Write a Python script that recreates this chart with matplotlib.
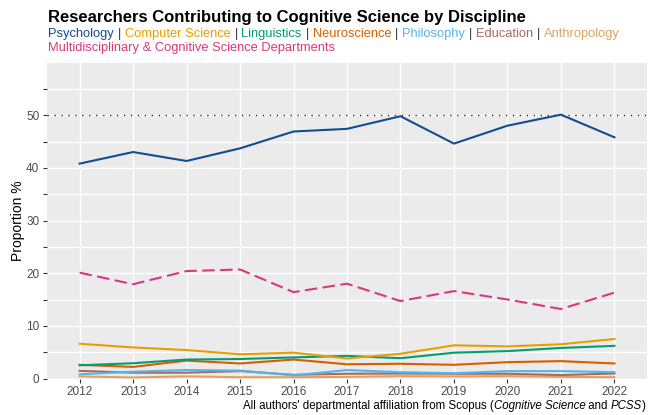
import numpy as np
import matplotlib
matplotlib.use("Agg")
import matplotlib.pyplot as plt

plt.rcParams["font.family"] = ["Liberation Sans", "DejaVu Sans"]

years = [2012, 2013, 2014, 2015, 2016, 2017, 2018, 2019, 2020, 2021, 2022]

psychology = [40.8, 43.0, 41.3, 43.7, 46.9, 47.4, 49.8, 44.6, 48.0, 50.1, 45.8]
computer_science = [6.6, 5.9, 5.4, 4.6, 4.9, 3.8, 4.7, 6.3, 6.1, 6.5, 7.5]
linguistics = [2.5, 2.9, 3.6, 3.7, 4.0, 4.3, 3.85, 4.9, 5.2, 5.8, 6.2]
neuroscience = [2.6, 2.2, 3.4, 2.85, 3.6, 2.7, 2.8, 2.6, 3.1, 3.3, 2.85]
philosophy = [0.8, 1.3, 1.6, 1.5, 0.6, 1.6, 1.2, 1.0, 1.4, 1.4, 1.2]
education = [1.45, 1.1, 1.1, 1.4, 0.7, 0.9, 0.95, 0.9, 0.9, 0.65, 0.95]
anthropology = [0.4, 0.2, 0.4, 0.25, 0.25, 0.3, 0.45, 0.4, 0.45, 0.3, 0.25]
multidisciplinary = [20.1, 17.9, 20.4, 20.7, 16.4, 18.0, 14.7, 16.6, 15.0, 13.2, 16.3]

names = ["Psychology", "Computer Science", "Linguistics", "Neuroscience",
         "Philosophy", "Education", "Anthropology"]
series = [psychology, computer_science, linguistics, neuroscience,
          philosophy, education, anthropology]
colors = ["#134D8E", "#E69F00", "#009E73", "#D55E00",
          "#56B4E9", "#A8695F", "#E0A35F"]
multi_name = "Multidisciplinary & Cognitive Science Departments"
multi_color = "#D9397C"

W, H = 655, 415
fig = plt.figure(figsize=(W/100, H/100), dpi=100)
# panel edges in pixels: left 47, right 647, top 62.5, bottom 378.5
ax = fig.add_axes([47/W, 1-378.5/H, (647-47)/W, (378.5-62.5)/H])
ax.set_facecolor("#EBEBEB")
for s in ax.spines.values():
    s.set_visible(False)

ax.set_xlim(2011.39, 2022.61)
ax.set_ylim(0, 60)
ax.set_xticks(years)
ax.set_xticklabels([str(y) for y in years])
yt = np.arange(0, 60, 5)
ax.set_yticks(yt)
ax.set_yticklabels([str(v) if v % 10 == 0 else "" for v in yt])
ax.grid(True, color="white", lw=1.0)
ax.set_axisbelow(True)
ax.tick_params(colors="#333333", labelcolor="#4D4D4D", labelsize=8.5,
               length=3, width=0.8, pad=2.5)

ax.axhline(50, color="#333333", ls=(0, (1, 4)), lw=1.0, zorder=2)

# small lines drawn back-to-front so the main ones sit on top
for name, vals, c in reversed(list(zip(names, series, colors))):
    ax.plot(years, vals, color=c, lw=1.5, zorder=3, clip_on=False)
ax.plot(years, multidisciplinary, color=multi_color, lw=1.5, ls=(0, (6, 2.6)), zorder=3)

ax.set_ylabel("Proportion %", fontsize=10, color="black", labelpad=1)

# title and coloured subtitle
fig.text(48/W, 1-22/H, "Researchers Contributing to Cognitive Science by Discipline",
         fontsize=12, fontweight="bold", va="baseline")

renderer = fig.canvas.get_renderer()
gap = 5.5  # pixels between a name and the bar
x = 48
ysub = 1-37/H
for i, (name, c) in enumerate(zip(names, colors)):
    t = fig.text(x/W, ysub, name, color=c, fontsize=9.3, va="baseline")
    x = t.get_window_extent(renderer).x1
    if i < len(names) - 1:
        x += gap
        fig.text(x/W, ysub, "|", color="#333333", fontsize=9.3, va="baseline", ha="center")
        x += gap
fig.text(48/W, 1-51/H, multi_name, color=multi_color, fontsize=9.3, va="baseline")

# caption, built from the right
parts = [("All authors' departmental affiliation from Scopus (", "normal"),
         ("Cognitive Science", "italic"), (" and ", "normal"),
         ("PCSS", "italic"), (")", "normal")]
x = 646
ycap = 1-409/H
for txt, style in reversed(parts):
    t = fig.text(x/W, ycap, txt, fontsize=8.3, style=style, ha="right", va="baseline")
    x = t.get_window_extent(renderer).x0

fig.savefig("out.png", dpi=100)
